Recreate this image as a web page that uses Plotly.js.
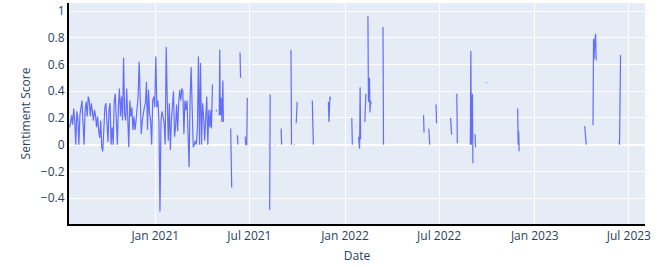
<!DOCTYPE html>
<html>
<head>
<meta charset="utf-8">
<script src="https://cdn.plot.ly/plotly-3.0.1.min.js"></script>
<style>html,body{margin:0;padding:0;background:#fff;}#chart{width:663px;height:267px;}</style>
</head>
<body>
<div id="chart"></div>
<script>
// Dense period (roughly every other day)
const denseDates = [
  "2020-07-20","2020-07-22","2020-07-24","2020-07-26","2020-07-28","2020-07-30",
  "2020-08-01","2020-08-03","2020-08-05","2020-08-07","2020-08-09","2020-08-11","2020-08-13","2020-08-15",
  "2020-08-17","2020-08-19","2020-08-21","2020-08-23","2020-08-25","2020-08-27","2020-08-29","2020-08-31",
  "2020-09-02","2020-09-04","2020-09-06","2020-09-08","2020-09-10","2020-09-12","2020-09-14","2020-09-16",
  "2020-09-18","2020-09-20","2020-09-22","2020-09-24","2020-09-26","2020-09-28","2020-09-30",
  "2020-10-02","2020-10-04","2020-10-06","2020-10-08","2020-10-10","2020-10-12","2020-10-14","2020-10-16","2020-10-18",
  "2020-10-20","2020-10-22","2020-10-24","2020-10-26","2020-10-28","2020-10-30",
  "2020-11-01","2020-11-03","2020-11-05","2020-11-07","2020-11-09","2020-11-11","2020-11-13","2020-11-15",
  "2020-11-17","2020-11-19","2020-11-21","2020-11-23","2020-11-25","2020-11-27","2020-11-29",
  "2020-12-01","2020-12-03","2020-12-05","2020-12-07","2020-12-09","2020-12-11","2020-12-13","2020-12-15",
  "2020-12-17","2020-12-19","2020-12-21","2020-12-23","2020-12-25","2020-12-27","2020-12-29","2020-12-31",
  "2021-01-02","2021-01-04","2021-01-06","2021-01-08","2021-01-10","2021-01-12","2021-01-14","2021-01-16","2021-01-18",
  "2021-01-20","2021-01-22","2021-01-24","2021-01-26","2021-01-28","2021-01-30",
  "2021-02-01","2021-02-03","2021-02-05","2021-02-07","2021-02-09","2021-02-11","2021-02-13","2021-02-15",
  "2021-02-17","2021-02-19","2021-02-21","2021-02-23","2021-02-25","2021-02-27",
  "2021-03-01","2021-03-03","2021-03-05","2021-03-07","2021-03-09","2021-03-11","2021-03-13","2021-03-15",
  "2021-03-17","2021-03-19","2021-03-21","2021-03-23","2021-03-25","2021-03-27","2021-03-29","2021-03-31",
  "2021-04-02","2021-04-04","2021-04-06","2021-04-08","2021-04-10","2021-04-12","2021-04-14","2021-04-16","2021-04-18"
];
const denseScores = [
  0.13,0.16,0.22,0.15,0.27,0.18,0.0,0.25,0.2,0.0,0.22,0.28,0.33,0.16,0.0,0.26,0.32,0.21,0.36,0.33,
  0.21,0.31,0.26,0.18,0.26,0.22,0.13,0.21,0.11,0.05,0.18,-0.02,-0.05,0.13,0.28,0.31,0.18,0.02,0.26,0.31,
  0.0,0.13,0.0,0.33,0.38,0.18,
  0.0,0.28,0.42,0.21,0.36,0.18,0.65,0.23,0.18,0.42,0.16,-0.02,0.33,0.21,0.28,0.11,0.21,0.11,0.18,0.26,
  0.36,0.62,0.31,0.08,0.18,0.25,0.28,0.31,0.47,0.11,0.41,0.23,0.18,0.0,0.33,0.36,0.28,0.66,0.28,0.33,
  0.18,-0.5,0.18,0.25,0.21,0.16,
  0.0,0.73,0.33,0.03,0.31,-0.04,0.18,0.33,0.40,0.06,0.13,0.30,0.10,0.31,0.41,0.33,0.42,0.40,0.08,0.33,
  0.26,0.33,0.0,-0.17,0.36,0.58,0.26,-0.02,0.0,0.03,0.0,0.13,0.66,0.0,0.61,0.0,0.31,0.21,0.03,0.18,
  0.36,0.0,0.26,0.13,0.26
];
// Sparse period (null = no data, breaks the line)
const sparseDates = [
  "2021-04-19","2021-04-21","2021-04-22","2021-04-28","2021-04-29","2021-04-30",
  "2021-05-04","2021-05-05","2021-05-06","2021-05-08","2021-05-09","2021-05-11","2021-05-12","2021-05-13",
  "2021-05-26","2021-05-27","2021-05-28","2021-05-29",
  "2021-06-08","2021-06-09","2021-06-10","2021-06-13","2021-06-14","2021-06-15",
  "2021-06-23","2021-06-24","2021-06-26","2021-06-27","2021-06-28",
  "2021-08-06","2021-08-07","2021-08-08","2021-08-09","2021-08-10","2021-08-11",
  "2021-08-19","2021-08-20","2021-08-21","2021-08-31","2021-09-01","2021-09-02",
  "2021-09-19","2021-09-20","2021-09-21","2021-09-25","2021-09-26","2021-09-27",
  "2021-09-29","2021-10-01","2021-10-02","2021-10-30","2021-11-01","2021-11-02",
  "2021-11-30","2021-12-01","2021-12-03","2021-12-04","2021-12-05",
  "2022-01-14","2022-01-15","2022-01-16","2022-01-23","2022-01-24","2022-01-25",
  "2022-01-27","2022-01-28","2022-01-29","2022-01-30","2022-01-31","2022-02-01",
  "2022-02-08","2022-02-10","2022-02-11",
  "2022-02-14","2022-02-15","2022-02-17","2022-02-18","2022-02-19","2022-02-20","2022-02-21",
  "2022-03-15","2022-03-16","2022-03-17",
  "2022-06-01","2022-06-02","2022-06-03","2022-06-11","2022-06-13","2022-06-14",
  "2022-06-25","2022-06-26","2022-06-27","2022-07-23","2022-07-25","2022-07-26",
  "2022-08-04","2022-08-05","2022-08-06",
  "2022-08-30","2022-08-31","2022-09-01","2022-09-02","2022-09-03","2022-09-04","2022-09-05",
  "2022-09-08","2022-09-09","2022-09-10","2022-09-30","2022-10-01","2022-10-02",
  "2022-11-29","2022-11-30","2022-12-01","2022-12-02","2022-12-03",
  "2023-04-07","2023-04-08","2023-04-10","2023-04-11",
  "2023-04-23","2023-04-24","2023-04-25","2023-04-27","2023-04-28","2023-04-29","2023-04-30",
  "2023-06-12","2023-06-13","2023-06-15"
];
const sparseScores = [
  0.12,0.45,null,0.26,0.25,null,
  0.22,0.71,0.22,0.35,0.17,0.48,0.17,null,
  0.12,-0.2,-0.32,null,
  0.07,0.0,null,0.69,0.5,null,
  0.06,0.0,0.0,0.35,null,
  0.0,0.0,null,-0.49,0.375,null,
  0.0,0.0,null,0.12,0.0,null,
  0.71,0.0,null,0.0,0.0,null,
  0.16,0.32,null,0.33,0.0,null,
  0.32,0.17,0.36,0.34,null,
  0.2,0.0,null,0.14,0.14,null,
  0.06,0.0,-0.03,0.43,0.04,null,
  0.17,0.38,null,
  0.96,0.32,0.5,0.24,0.33,0.3,null,
  0.88,0.0,null,
  0.22,0.09,null,0.12,0.0,null,
  0.3,0.16,null,0.2,0.075,null,
  0.38,0.01,null,
  0.0,0.70,0.0,0.38,0.38,-0.14,null,
  0.08,-0.02,null,0.465,0.46,null,
  0.27,0.0,0.1,-0.05,null,
  0.14,0.09,0.0,null,
  0.145,0.79,0.64,0.8,0.83,0.63,null,
  0.02,0.0,0.67
];

const dates = denseDates.concat(sparseDates);
const scores = denseScores.concat(sparseScores);

const trace = {
  x: dates, y: scores, type: 'scatter', mode: 'lines',
  line: {color: '#636efa', width: 1.2}, connectgaps: false
};
const axisFont = {family: '"Open Sans", verdana, arial, sans-serif', size: 12, color: '#2a3f5f'};
const layout = {
  width: 663, height: 267,
  margin: {l: 69, r: 18, t: 3, b: 43},
  paper_bgcolor: '#ffffff', plot_bgcolor: '#E5ECF6',
  font: axisFont,
  showlegend: false,
  xaxis: {
    type: 'date', range: ['2020-07-19', '2023-08-01'],
    dtick: 'M6', tick0: '2021-01-01', tickformat: '%b %Y',
    gridcolor: '#ffffff', showline: true, linecolor: '#000000', linewidth: 2,
    zeroline: false, ticks: '',
    title: {text: 'Date', font: axisFont, standoff: 8}
  },
  yaxis: {
    range: [-0.594, 1.06], dtick: 0.2, tick0: 0,
    gridcolor: '#ffffff', showline: true, linecolor: '#000000', linewidth: 2,
    zeroline: true, zerolinecolor: '#ffffff', zerolinewidth: 2, ticks: '',
    title: {text: 'Sentiment Score', font: axisFont, standoff: 8}
  }
};
Plotly.newPlot('chart', [trace], layout, {displayModeBar: false, staticPlot: true});
</script>
</body>
</html>
